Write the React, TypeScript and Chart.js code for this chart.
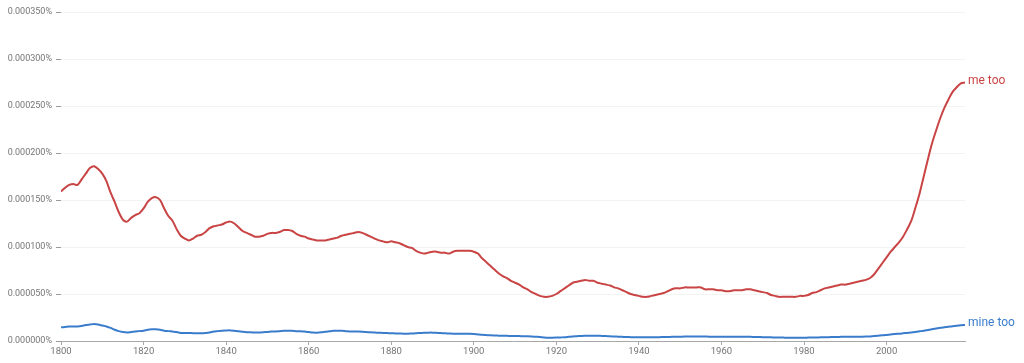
import React, { useEffect, useRef } from "react";
import { Chart, registerables } from "chart.js";

Chart.register(...registerables);

// Values in millionths of a percent (e.g. 150 => 0.000150%)
const startYear = 1800;
const endYear = 2019;
const years: number[] = Array.from({ length: endYear - startYear + 1 }, (_, i) => startYear + i);

const seriesNames = ["me too", "mine too"];

const meToo: number[] = [
  159, 163, 166, 167, 166, 172, 178, 184, 186, 183, // 1800-1809
  178, 170, 158, 148, 137, 129, 127, 131, 134, 136, // 1810-1819
  141, 148, 152, 153, 150, 141, 133, 128, 119, 112, // 1820-1829
  109, 107, 109, 112, 113, 116, 120, 122, 123, 124, // 1830-1839
  126, 127, 125, 121, 117, 115, 113, 111, 111, 112, // 1840-1849
  114, 115, 115, 116, 118, 118, 117, 114, 112, 111, // 1850-1859
  109, 108, 107, 107, 107, 108, 109, 110, 112, 113, // 1860-1869
  114, 115, 116, 115, 113, 111, 109, 107, 106, 105, // 1870-1879
  106, 105, 104, 102, 100, 99, 96, 94, 93, 94,      // 1880-1889
  95, 95, 94, 94, 93, 95, 96, 96, 96, 96,           // 1890-1899
  95, 93, 88, 84, 80, 76, 72, 69, 67, 64,           // 1900-1909
  62, 60, 57, 55, 52, 50, 48, 47, 47, 48,           // 1910-1919
  50, 53, 56, 59, 62, 63, 64, 65, 64, 64,           // 1920-1929
  62, 61, 60, 59, 57, 56, 54, 52, 50, 49,           // 1930-1939
  48, 47, 47, 48, 49, 50, 51, 53, 55, 56,           // 1940-1949
  56, 57, 57, 57, 57, 57, 55, 55, 55, 54,           // 1950-1959
  54, 53, 53, 54, 54, 54, 55, 55, 54, 53,           // 1960-1969
  52, 51, 49, 48, 47, 47, 47, 47, 47, 48,           // 1970-1979
  48, 49, 51, 52, 54, 56, 57, 58, 59, 60,           // 1980-1989
  60, 61, 62, 63, 64, 65, 67, 71, 77, 83,           // 1990-1999
  89, 95, 100, 105, 111, 119, 128, 142, 157, 175,   // 2000-2009
  193, 210, 224, 237, 248, 257, 265, 270, 274, 275, // 2010-2019
];

const mineToo: number[] = [
  14.5, 15, 15.5, 15.5, 15.5, 16, 17, 17.5, 18, 17.5,  // 1800-1809
  16.5, 15.5, 14, 12, 10.5, 9.5, 9, 9.5, 10, 10.5,     // 1810-1819
  11, 12, 12.5, 12.5, 12, 11, 10.5, 10, 9.5, 8.5,      // 1820-1829
  8.5, 8.5, 8.3, 8.2, 8.2, 8.5, 9, 10, 10.5, 11,       // 1830-1839
  11.2, 11.3, 11, 10.3, 9.8, 9.4, 9.2, 9, 9, 9.3,      // 1840-1849
  9.7, 10, 10.2, 10.5, 10.8, 11, 10.8, 10.5, 10.3, 10, // 1850-1859
  9.5, 9, 8.9, 9.2, 9.8, 10.3, 10.8, 11, 10.8, 10.5,   // 1860-1869
  10.2, 10, 10, 9.8, 9.5, 9.2, 9, 8.8, 8.6, 8.4,       // 1870-1879
  8.2, 8.1, 8, 7.8, 7.8, 8, 8.2, 8.5, 8.8, 8.9,        // 1880-1889
  8.9, 8.7, 8.5, 8.2, 8, 7.8, 7.8, 7.8, 7.7, 7.6,      // 1890-1899
  7.4, 7, 6.6, 6.3, 6, 5.8, 5.7, 5.6, 5.5, 5.4,        // 1900-1909
  5.3, 5.2, 5.1, 5, 4.8, 4.5, 4.2, 3.8, 3.5, 3.5,      // 1910-1919
  3.6, 3.8, 4, 4.4, 4.8, 5.1, 5.4, 5.6, 5.7, 5.7,      // 1920-1929
  5.6, 5.4, 5.2, 5, 4.8, 4.6, 4.4, 4.2, 4.1, 4,        // 1930-1939
  4, 3.9, 3.9, 4, 4, 4.1, 4.2, 4.3, 4.4, 4.5,          // 1940-1949
  4.6, 4.7, 4.7, 4.8, 4.8, 4.8, 4.7, 4.6, 4.6, 4.5,    // 1950-1959
  4.5, 4.5, 4.6, 4.6, 4.6, 4.5, 4.5, 4.4, 4.3, 4.2,    // 1960-1969
  4.1, 4, 3.9, 3.8, 3.7, 3.6, 3.5, 3.5, 3.5, 3.5,      // 1970-1979
  3.5, 3.6, 3.7, 3.8, 3.9, 4, 4.1, 4.2, 4.3, 4.4,      // 1980-1989
  4.5, 4.5, 4.5, 4.6, 4.6, 4.7, 4.9, 5.2, 5.6, 6,      // 1990-1999
  6.5, 7, 7.5, 7.8, 8.2, 8.6, 9, 9.6, 10.3, 11,        // 2000-2009
  11.8, 12.6, 13.3, 14, 14.6, 15.2, 15.8, 16.3, 16.7, 17, // 2010-2019
];

const yTickMax = 350;
const yTickStep = 50;
const xTickStep = 20;

const RED = "#c94444";
const BLUE = "#3a7ccc";

const endLabels = {
  id: "endLabels",
  afterDatasetsDraw(chart: any) {
    const ctx = chart.ctx;
    ctx.save();
    ctx.font = "12px Roboto";
    ctx.textBaseline = "middle";
    ctx.textAlign = "left";
    chart.data.datasets.forEach((ds: any, i: number) => {
      const meta = chart.getDatasetMeta(i);
      const last = meta.data[meta.data.length - 1];
      if (!last) return;
      ctx.fillStyle = ds.borderColor;
      ctx.fillText(ds.label, last.x + 3, last.y - 2);
    });
    ctx.restore();
  },
};

export default function App() {
  const ref = useRef<HTMLCanvasElement | null>(null);
  useEffect(() => {
    if (!ref.current) return;
    const chart = new Chart(ref.current, {
      type: "line",
      data: {
        datasets: [
          {
            label: seriesNames[0],
            data: years.map((y, i) => ({ x: y, y: meToo[i] })),
            borderColor: RED,
            borderWidth: 2,
            pointRadius: 0,
            tension: 0.3,
            fill: false,
          },
          {
            label: seriesNames[1],
            data: years.map((y, i) => ({ x: y, y: mineToo[i] })),
            borderColor: BLUE,
            borderWidth: 2,
            pointRadius: 0,
            tension: 0.3,
            fill: false,
          },
        ],
      },
      options: {
        responsive: false,
        animation: false,
        layout: { padding: { top: 12, right: 59, left: 0, bottom: 0 } },
        plugins: {
          legend: { display: false },
          tooltip: { enabled: false },
        },
        scales: {
          x: {
            type: "linear",
            min: startYear,
            max: endYear,
            afterBuildTicks: (scale: any) => {
              const t = [];
              for (let v = startYear; v <= 2000; v += xTickStep) t.push({ value: v });
              scale.ticks = t;
            },
            afterFit: (scale: any) => {
              scale.height = 22;
            },
            border: { display: true, color: "#a8a8a8", width: 1 },
            grid: {
              drawOnChartArea: false,
              drawTicks: true,
              tickLength: 4,
              tickColor: "#a8a8a8",
            },
            ticks: {
              color: "#757575",
              font: { family: "Roboto", size: 9.5 },
              padding: 1,
              maxRotation: 0,
              callback: (v: any) => String(v),
            },
          },
          y: {
            type: "linear",
            min: 0,
            max: yTickMax,
            afterFit: (scale: any) => {
              scale.width = 61;
            },
            border: { display: false },
            grid: {
              color: "#f3f3f3",
              drawTicks: true,
              tickLength: 5,
              tickColor: "#9a9a9a",
            },
            ticks: {
              stepSize: yTickStep,
              color: "#757575",
              font: { family: "Roboto", size: 9 },
              padding: 4,
              callback: (v: any) => (Number(v) / 1e6).toFixed(6) + "%",
            },
          },
        },
      },
      plugins: [endLabels],
    });
    return () => chart.destroy();
  }, []);
  return (
    <div style={{ position: "absolute", left: 0, top: 0, width: 1024, height: 363, background: "#fff" }}>
      <canvas ref={ref} width={1024} height={363} style={{ display: "block" }} />
    </div>
  );
}
